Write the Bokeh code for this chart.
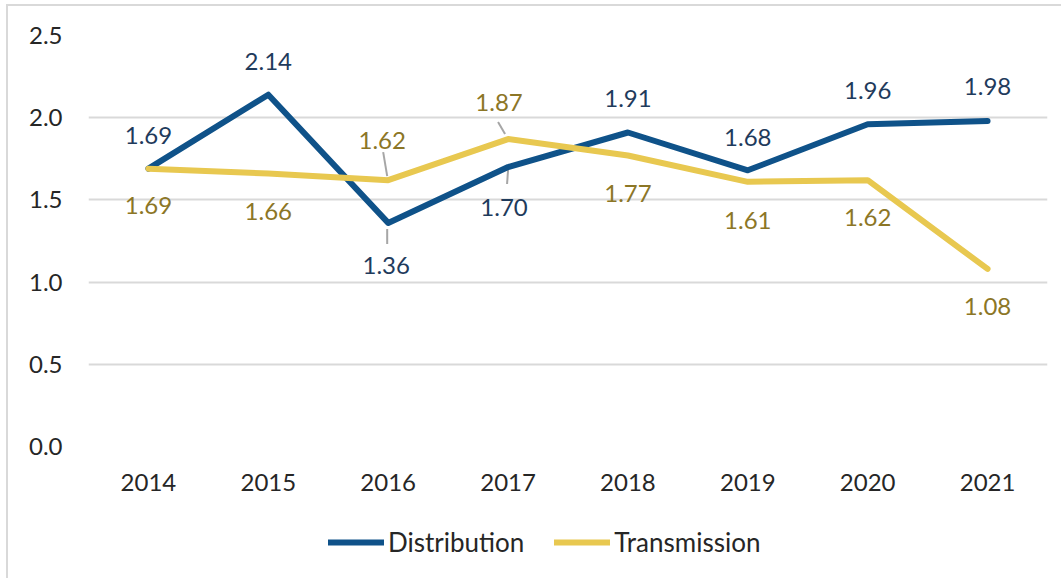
from bokeh.plotting import figure
from bokeh.layouts import column
from bokeh.models import (ColumnDataSource, FixedTicker, Range1d, Legend,
                          LegendItem, LabelSet, PrintfTickFormatter)
from bokeh.core.properties import value
from bokeh.embed import file_html
from bokeh.resources import INLINE

# ---------------- data ----------------
years = ["2014", "2015", "2016", "2017", "2018", "2019", "2020", "2021"]
distribution = [1.69, 2.14, 1.36, 1.70, 1.91, 1.68, 1.96, 1.98]
transmission = [1.69, 1.66, 1.62, 1.87, 1.77, 1.61, 1.62, 1.08]
y_ticks = [0.0, 0.5, 1.0, 1.5, 2.0, 2.5]
series_names = ["Distribution", "Transmission"]

# ---------------- label placement (screen px; + = up) ----------------
dist_dx = [0, 0, -2, -4, 0, 0, 0, 0]
dist_dy = [33, 33, -43, -40, 34, 33, 34, 34]
trans_dx = [0, 0, -6, -9, 0, 0, 0, 0]
trans_dy = [-37, -38, 40, 37, -38, -39, -37, -38]

# leader lines: (index, series, dx0, dy0, dx1, dy1) in px, + dy = up
leaders = [
    (2, "d", -1, -6, -1, -21),
    (3, "d", 0, -3, -1, -17),
    (2, "t", -5, 28, -1, 4),
    (3, "t", -10, 17, -3, 5),
]

FONT = "Lato"
FS = "24px"
BLUE = "#0F5289"
GOLD = "#E8C850"
BLUE_TXT = "#1F3B5C"
GOLD_TXT = "#8C7626"
GRID = "#D9D9D9"
TXT = "#262626"

FW, FH = 959, 411
ML, MR, MT, MB = 88, 14, 35, 58
TOTAL_W = ML + FW + MR
LEG_H = 578 - (MT + FH + MB)

p = figure(frame_width=FW, frame_height=FH, output_backend="svg",
           toolbar_location=None,
           x_range=Range1d(-0.5, len(years) - 0.5), y_range=Range1d(0, 2.5),
           min_border_left=ML, min_border_right=MR, min_border_top=MT,
           min_border_bottom=MB)
p.outline_line_color = None
p.background_fill_color = "white"
p.border_fill_alpha = 0

xs = list(range(len(years)))

# axes
p.xaxis.ticker = FixedTicker(ticks=xs)
p.xaxis.major_label_overrides = {i: y for i, y in zip(xs, years)}
p.yaxis.ticker = FixedTicker(ticks=y_ticks)
p.yaxis.formatter = PrintfTickFormatter(format="%.1f")
for ax in (p.xaxis, p.yaxis):
    ax.axis_line_color = None
    ax.major_tick_line_color = None
    ax.minor_tick_line_color = None
    ax.major_tick_out = 0
    ax.major_tick_in = 0
    ax.major_label_text_font = FONT
    ax.major_label_text_font_size = FS
    ax.major_label_text_color = TXT
p.yaxis.major_label_standoff = 26
p.xaxis.major_label_standoff = 27

p.xgrid.grid_line_color = None
p.ygrid.ticker = FixedTicker(ticks=y_ticks)
p.ygrid.grid_line_color = GRID
p.ygrid.grid_line_width = 2

src = ColumnDataSource(dict(x=xs, d=distribution, t=transmission,
                            dl=[f"{v:.2f}" for v in distribution],
                            tl=[f"{v:.2f}" for v in transmission],
                            ddx=dist_dx, ddy=dist_dy, tdx=trans_dx, tdy=trans_dy))

# leader lines
px_x = (len(years)) / FW
px_y = 2.5 / FH
lx0, ly0, lx1, ly1 = [], [], [], []
for idx, s, dx0, dy0, dx1, dy1 in leaders:
    base = distribution[idx] if s == "d" else transmission[idx]
    lx0.append(idx + dx0 * px_x)
    ly0.append(base + dy0 * px_y)
    lx1.append(idx + dx1 * px_x)
    ly1.append(base + dy1 * px_y)
p.segment(x0=lx0, y0=ly0, x1=lx1, y1=ly1, line_color="#A6A6A6", line_width=2)

line_style = dict(line_width=6, line_join="round", line_cap="round")
p.line("x", "d", source=src, line_color=BLUE, **line_style)
p.line("x", "t", source=src, line_color=GOLD, **line_style)

p.add_layout(LabelSet(x="x", y="d", text="dl", source=src, x_offset="ddx",
                      y_offset="ddy", text_align="center", text_baseline="middle",
                      text_font=value(FONT), text_font_size=FS, text_color=BLUE_TXT))
p.add_layout(LabelSet(x="x", y="t", text="tl", source=src, x_offset="tdx",
                      y_offset="tdy", text_align="center", text_baseline="middle",
                      text_font=value(FONT), text_font_size=FS, text_color=GOLD_TXT))

# ---------------- legend strip (separate figure below the chart) ----------------
# its ranges lie outside the data, so only the legend itself is visible
lp = figure(width=TOTAL_W, height=LEG_H, output_backend="svg", toolbar_location=None,
            x_axis_type=None, y_axis_type=None, x_range=Range1d(-20, -19),
            y_range=Range1d(-20, -19), min_border=0)
lp.outline_line_color = None
lp.background_fill_alpha = 0
lp.border_fill_alpha = 0
lp.grid.grid_line_color = None
lr1 = lp.line("x", "d", source=src, line_color=BLUE, **line_style)
lr2 = lp.line("x", "t", source=src, line_color=GOLD, **line_style)

legend = Legend(items=[LegendItem(label=series_names[0], renderers=[lr1]),
                       LegendItem(label=series_names[1], renderers=[lr2])],
                orientation="horizontal", location=(240, 20),
                glyph_width=56, glyph_height=20, label_standoff=4, spacing=30,
                label_text_font=FONT, label_text_font_size="26px",
                label_text_color=TXT, border_line_color=None,
                background_fill_alpha=0, padding=0, margin=0)
lp.add_layout(legend)

layout = column(p, lp, spacing=0)
layout.styles = {
    "background": ("linear-gradient(#D9D9D9,#D9D9D9) 6px 4px / 2px 100% no-repeat, "
                   "linear-gradient(#D9D9D9,#D9D9D9) 6px 4px / 100% 2px no-repeat, white"),
}

open("out.html", "w").write(file_html(layout, INLINE))
